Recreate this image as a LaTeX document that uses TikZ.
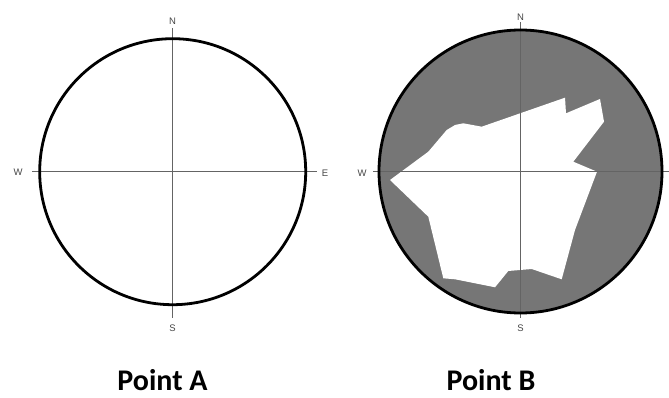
\documentclass[tikz,border=0pt]{standalone}
\usepackage{fontspec}
\setmainfont{Carlito}
\newfontfamily\dirfont{Liberation Sans}
\definecolor{diskgray}{RGB}{118,118,118}
\definecolor{axisgray}{RGB}{100,100,100}
\definecolor{lblgray}{RGB}{70,70,70}
\begin{document}
\begin{tikzpicture}[x=1pt,y=-1pt,
  ring/.style={draw=black,line width=2.8pt},
  axisline/.style={draw=axisgray,line width=0.8pt},
  dirlabel/.style={font=\dirfont\fontsize{9.5}{10}\selectfont,text=lblgray,inner sep=0pt},
  title/.style={font=\bfseries\fontsize{30}{31}\selectfont,inner sep=0pt,text depth=0pt,anchor=base}]
\useasboundingbox (0,0) rectangle (669,398);
% Point A
\coordinate (ca) at (172.7,171.7);
\draw[axisline] (32,171.7) -- (317,171.7);
\draw[axisline] (172.7,28) -- (172.7,318);
\draw[ring] (ca) circle (133);
\node[dirlabel] (an) at (172.5,21) {N};
\node[dirlabel] (as) at (172.5,328) {S};
\node[dirlabel] (aw) at (18,172.5) {W};
\node[dirlabel] (ae) at (325,173) {E};
\node[title] (ta) at (162.5,390.5) {Point A};
% Point B
\coordinate (cb) at (520.5,171.5);
\fill[diskgray] (cb) circle (141.5);
\fill[white] (390,180) -- (428.3,216.7) -- (443.3,278.3) -- (455,279.3) -- (495,287.3)
  -- (508.3,271) -- (531.7,269) -- (561.7,279.3) -- (575,230) -- (597,171.7)
  -- (573.3,161.7) -- (604,121.7) -- (600,99) -- (566,113.3) -- (565,97.7)
  -- (481.7,126.7) -- (463.3,123.3) -- (455,125) -- (446.7,130) -- (428.3,151.7) -- cycle;
\draw[axisline] (373,171.5) -- (669,171.5);
\draw[axisline] (520.5,22) -- (520.5,318);
\draw[ring] (cb) circle (141.5);
\node[dirlabel] (bn) at (520.5,17) {N};
\node[dirlabel] (bs) at (520.5,328) {S};
\node[dirlabel] (bw) at (362,173) {W};
\node[title] (tb) at (491,390.5) {Point B};
\end{tikzpicture}
\end{document}
